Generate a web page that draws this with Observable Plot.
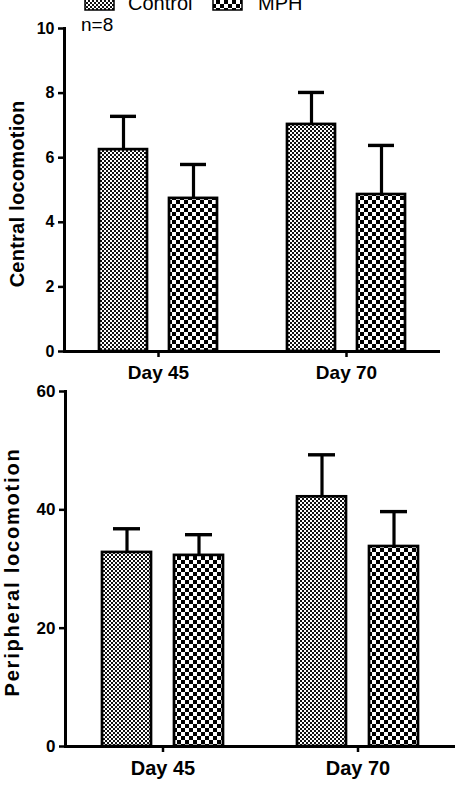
<!DOCTYPE html>
<html>
<head>
<meta charset="utf-8">
<script src="https://cdn.jsdelivr.net/npm/d3@7"></script>
<script src="https://cdn.jsdelivr.net/npm/@observablehq/plot@0.6"></script>
<style>
  html, body { margin: 0; padding: 0; background: #fff; }
  #wrap { position: relative; width: 457px; height: 785px; overflow: hidden; background: #fff;
          font-family: "Liberation Sans", Arial, sans-serif; }
  #wrap > svg, #wrap > div { position: absolute; left: 0; }
</style>
</head>
<body>
<div id="wrap">
  <svg id="legend" width="457" height="40" style="top:0; z-index:2">
    <defs>
      <!-- fine checker for Control -->
      <pattern id="pat-control" patternUnits="userSpaceOnUse" width="4" height="4">
        <rect width="4" height="4" fill="#fff"/>
        <rect x="0" y="0" width="2" height="2" fill="#111"/>
        <rect x="2" y="2" width="2" height="2" fill="#111"/>
      </pattern>
      <!-- coarse checker for MPH -->
      <pattern id="pat-mph" patternUnits="userSpaceOnUse" width="8" height="8">
        <rect width="8" height="8" fill="#fff"/>
        <rect x="0" y="0" width="4" height="4" fill="#000"/>
        <rect x="4" y="4" width="4" height="4" fill="#000"/>
      </pattern>
    </defs>
  </svg>
  <div id="top" style="top:0; z-index:0"></div>
  <div id="bottom" style="top:372px; z-index:1"></div>
</div>
<script>
// Groups and time points
const days = ["Day 45", "Day 70"];
const groups = ["Control", "MPH"];
const sampleNote = "n=8";

// Central locomotion: mean and SEM per day
const centralControl = [6.25, 7.03];
const centralControlErr = [1.03, 0.99];
const centralMPH = [4.74, 4.86];
const centralMPHErr = [1.05, 1.52];
const centralTicks = [0, 2, 4, 6, 8, 10];
const centralTitle = "Central locomotion";

// Peripheral locomotion: mean and SEM per day
const periphControl = [32.8, 42.2];
const periphControlErr = [4.0, 7.1];
const periphMPH = [32.3, 33.8];
const periphMPHErr = [3.5, 5.9];
const periphTicks = [0, 20, 40, 60];
const periphTitle = "Peripheral locomotion";

const patterns = ["url(#pat-control)", "url(#pat-mph)"];
const font = "Liberation Sans, Arial, sans-serif";

function rows(ctrl, ctrlErr, mph, mphErr) {
  return days.flatMap((day, i) => [
    {day, group: "Control", mean: ctrl[i], err: ctrlErr[i]},
    {day, group: "MPH", mean: mph[i], err: mphErr[i]}
  ]);
}

function panel({data, ticks, title, height, marginTop, marginBottom, marginRight,
                tickFont, dayFont, titleFont, titleDx, titleDy, titleSpacing}) {
  const svg = Plot.plot({
    width: 457,
    height,
    marginLeft: 64,
    marginRight,
    marginTop,
    marginBottom,
    style: {background: "transparent", fontFamily: font, fontWeight: "bold", color: "#000"},
    fx: {domain: days, padding: 0, axis: null},
    x: {domain: groups, paddingInner: 0.315, paddingOuter: 0.5, axis: null},
    y: {domain: [ticks[0], ticks[ticks.length - 1]], axis: null},
    color: {domain: groups, range: patterns},
    marks: [
      Plot.barY(data, {fx: "day", x: "group", y: "mean", fill: "group",
                       stroke: "#000", strokeWidth: 2.7}),
      Plot.ruleX(data, {fx: "day", x: "group", y1: "mean", y2: d => d.mean + d.err,
                        stroke: "#000", strokeWidth: 3.2}),
      Plot.tickY(data, {fx: "day", x: "group", y: d => d.mean + d.err,
                        stroke: "#000", strokeWidth: 3.4, insetLeft: 11, insetRight: 11}),
      Plot.ruleY([0], {stroke: "#000", strokeWidth: 3}),
      Plot.frame({anchor: "left", facetAnchor: "left", stroke: "#000", strokeWidth: 3}),
      Plot.axisY({ticks, tickSize: 6, tickPadding: 4, strokeWidth: 2.5,
                  fontSize: tickFont, fontWeight: "bold", label: null}),
      Plot.axisFx({anchor: "bottom", tickSize: 6, tickPadding: 8, strokeWidth: 2.5,
                   fontSize: dayFont, fontWeight: "bold", label: null}),
      Plot.text([title], {text: d => d, frameAnchor: "left", facetAnchor: "left",
                          textAnchor: "middle", rotate: -90, dx: titleDx, dy: titleDy,
                          fontSize: titleFont, fontWeight: "bold"})
    ]
  });
  // spread the y-axis title to its full length
  d3.select(svg).selectAll("text")
    .filter(function() { return this.textContent === title; })
    .style("letter-spacing", titleSpacing + "px");
  return svg;
}

document.getElementById("top").append(panel({
  data: rows(centralControl, centralControlErr, centralMPH, centralMPHErr),
  ticks: centralTicks, title: centralTitle,
  height: 385, marginTop: 28, marginBottom: 34, marginRight: 17,
  tickFont: 16, dayFont: 19, titleFont: 20, titleDx: -47, titleDy: 4, titleSpacing: 0.25
}));

document.getElementById("bottom").append(panel({
  data: rows(periphControl, periphControlErr, periphMPH, periphMPHErr),
  ticks: periphTicks, title: periphTitle,
  height: 413, marginTop: 19, marginBottom: 39, marginRight: 2,
  tickFont: 17, dayFont: 20, titleFont: 20, titleDx: -53, titleDy: 3, titleSpacing: 1.8
}));

// Legend and sample size note
const legend = d3.select("#legend");
const items = [
  {label: groups[0], fill: patterns[0], sx: 85, tx: 128},
  {label: groups[1], fill: patterns[1], sx: 213, tx: 258}
];
for (const it of items) {
  legend.append("rect").attr("x", it.sx).attr("y", -8).attr("width", 29).attr("height", 18)
    .attr("fill", it.fill).attr("stroke", "#000").attr("stroke-width", 1.5);
  legend.append("text").attr("x", it.tx).attr("y", 9.5)
    .attr("font-family", font).attr("font-size", 20).text(it.label);
}
legend.append("text").attr("x", 81).attr("y", 30.5)
  .attr("font-family", font).attr("font-size", 19).text(sampleNote);
</script>
</body>
</html>
